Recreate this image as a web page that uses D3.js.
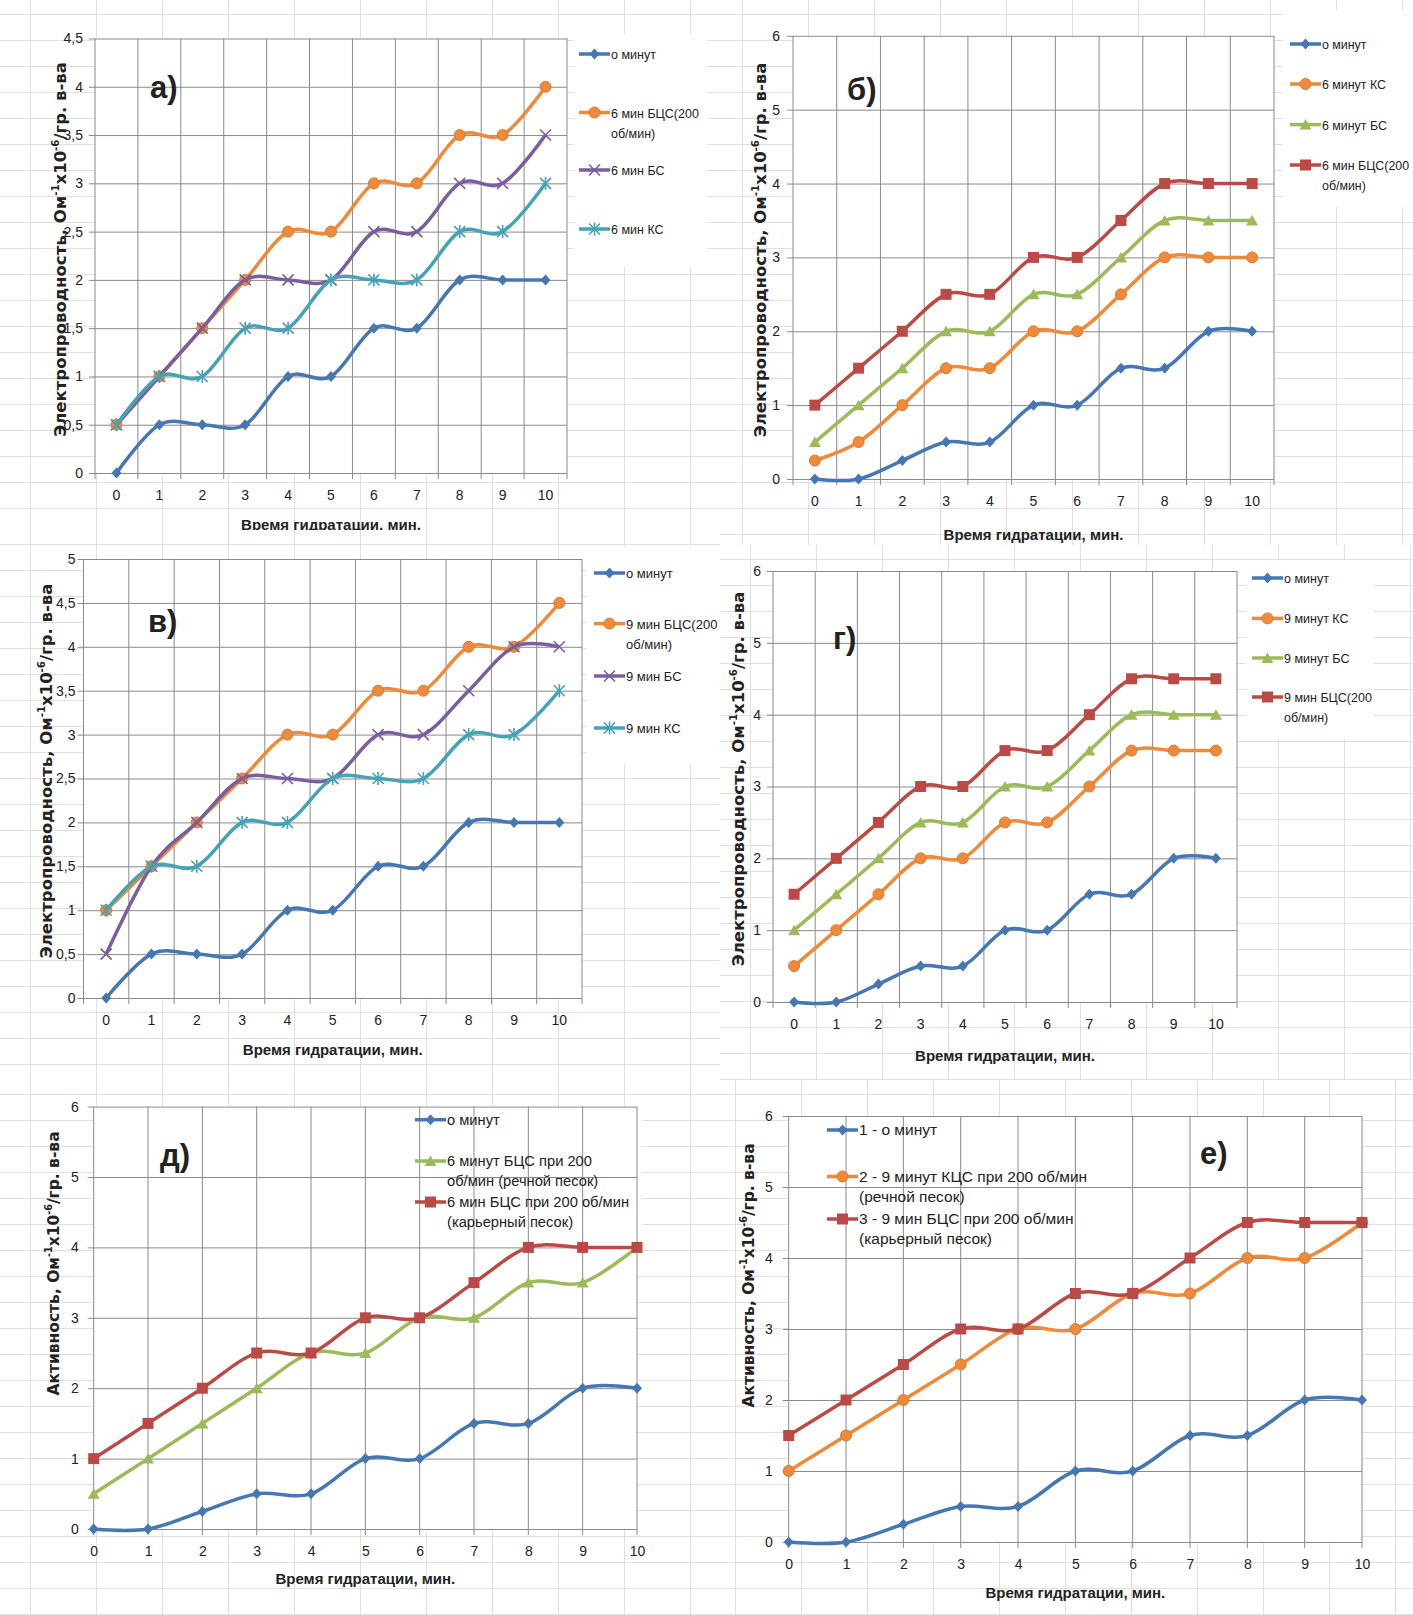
<!DOCTYPE html>
<html>
<head>
<meta charset="utf-8">
<script src="https://cdn.jsdelivr.net/npm/d3@7"></script>
<style>
body { margin: 0; background: #fff; }
svg text { font-family: "Liberation Sans", Arial, sans-serif; fill: #222; }
</style>
</head>
<body>
<svg id="chart" width="1413" height="1615"></svg>
<script>
// categories (время гидратации, мин.)
const hours = [0, 1, 2, 3, 4, 5, 6, 7, 8, 9, 10];
const xTitle = "Время гидратации, мин.";
const yTitleCond = "Электропроводность";
const yTitleAct = "Активность";

// а)
const aNames = ["о минут", "6 мин БЦС(200\nоб/мин)", "6 мин БС", "6 мин КС"];
const a0 = [0, 0.5, 0.5, 0.5, 1, 1, 1.5, 1.5, 2, 2, 2];
const aBCS = [0.5, 1, 1.5, 2, 2.5, 2.5, 3, 3, 3.5, 3.5, 4];
const aBS = [0.5, 1, 1.5, 2, 2, 2, 2.5, 2.5, 3, 3, 3.5];
const aKS = [0.5, 1, 1, 1.5, 1.5, 2, 2, 2, 2.5, 2.5, 3];
const aTicks = [0, 0.5, 1, 1.5, 2, 2.5, 3, 3.5, 4, 4.5];

// б)
const bNames = ["о минут", "6 минут КС", "6 минут БС", "6 мин БЦС(200\nоб/мин)"];
const b0 = [0, 0, 0.25, 0.5, 0.5, 1, 1, 1.5, 1.5, 2, 2];
const bKS = [0.25, 0.5, 1, 1.5, 1.5, 2, 2, 2.5, 3, 3, 3];
const bBS = [0.5, 1, 1.5, 2, 2, 2.5, 2.5, 3, 3.5, 3.5, 3.5];
const bBCS = [1, 1.5, 2, 2.5, 2.5, 3, 3, 3.5, 4, 4, 4];
const bTicks = [0, 1, 2, 3, 4, 5, 6];

// в)
const vNames = ["о минут", "9 мин БЦС(200\nоб/мин)", "9 мин БС", "9 мин КС"];
const v0 = [0, 0.5, 0.5, 0.5, 1, 1, 1.5, 1.5, 2, 2, 2];
const vBCS = [1, 1.5, 2, 2.5, 3, 3, 3.5, 3.5, 4, 4, 4.5];
const vBS = [0.5, 1.5, 2, 2.5, 2.5, 2.5, 3, 3, 3.5, 4, 4];
const vKS = [1, 1.5, 1.5, 2, 2, 2.5, 2.5, 2.5, 3, 3, 3.5];
const vTicks = [0, 0.5, 1, 1.5, 2, 2.5, 3, 3.5, 4, 4.5, 5];

// г)
const gNames = ["о минут", "9 минут КС", "9 минут БС", "9 мин БЦС(200\nоб/мин)"];
const g0 = [0, 0, 0.25, 0.5, 0.5, 1, 1, 1.5, 1.5, 2, 2];
const gKS = [0.5, 1, 1.5, 2, 2, 2.5, 2.5, 3, 3.5, 3.5, 3.5];
const gBS = [1, 1.5, 2, 2.5, 2.5, 3, 3, 3.5, 4, 4, 4];
const gBCS = [1.5, 2, 2.5, 3, 3, 3.5, 3.5, 4, 4.5, 4.5, 4.5];
const gTicks = [0, 1, 2, 3, 4, 5, 6];

// д)
const dNames = ["о минут", "6 минут БЦС при 200\nоб/мин (речной песок)", "6 мин БЦС при 200 об/мин\n(карьерный песок)"];
const d0 = [0, 0, 0.25, 0.5, 0.5, 1, 1, 1.5, 1.5, 2, 2];
const dRiver = [0.5, 1, 1.5, 2, 2.5, 2.5, 3, 3, 3.5, 3.5, 4];
const dQuarry = [1, 1.5, 2, 2.5, 2.5, 3, 3, 3.5, 4, 4, 4];
const dTicks = [0, 1, 2, 3, 4, 5, 6];

// е)
const eNames = ["1 - о минут", "2 - 9 минут КЦС при 200 об/мин\n(речной песок)", "3 - 9 мин БЦС при 200 об/мин\n(карьерный песок)"];
const e0 = [0, 0, 0.25, 0.5, 0.5, 1, 1, 1.5, 1.5, 2, 2];
const eRiver = [1, 1.5, 2, 2.5, 3, 3, 3.5, 3.5, 4, 4, 4.5];
const eQuarry = [1.5, 2, 2.5, 3, 3, 3.5, 3.5, 4, 4.5, 4.5, 4.5];
const eTicks = [0, 1, 2, 3, 4, 5, 6];

const blue = "#4677b2", orange = "#ee8a3a", purple = "#7b5e9e",
      teal = "#46a2b5", green = "#9bbb59", red = "#bb4a46";

const panels = [
  { label: "а)", labelPos: [150, 98], frame: [0, 0, 712, 530], plot: { l: 95, r: 567, t: 38.5, b: 473 },
    ticks: aTicks, mode: "band", yTitle: yTitleCond, yTitleX: 60, yTitleY: 249.5, yTitleSize: 16.5,
    tickPad: 12, xTitleDy: 52,
    series: [[aNames[0], a0, blue, "diamond"], [aNames[1], aBCS, orange, "circle"],
             [aNames[2], aBS, purple, "x"], [aNames[3], aKS, teal, "star"]],
    legend: { x: 579, ys: [54, 112.5, 170, 229], size: 12.5, box: [574, 34, 133, 233] } },
  { label: "б)", labelPos: [847, 100], frame: [712, 0, 701, 545], plot: { l: 793, r: 1274, t: 35.8, b: 479 },
    ticks: bTicks, mode: "band", yTitle: yTitleCond, yTitleX: 760, yTitleY: 250, yTitleSize: 16.5,
    tickPad: 13, xTitleDy: 56,
    series: [[bNames[0], b0, blue, "diamond"], [bNames[1], bKS, orange, "circle"],
             [bNames[2], bBS, green, "triangle"], [bNames[3], bBCS, red, "square"]],
    legend: { x: 1290, ys: [44, 84, 124.6, 165], size: 12.4, box: [1283, 10, 130, 197] } },
  { label: "в)", labelPos: [148, 632], frame: [0, 530, 720, 550], plot: { l: 83.5, r: 582, t: 559, b: 998 },
    ticks: vTicks, mode: "band", yTitle: yTitleCond, yTitleX: 46, yTitleY: 771, yTitleSize: 16.5,
    tickPad: 8, xTitleDy: 51.5,
    series: [[vNames[0], v0, blue, "diamond"], [vNames[1], vBCS, orange, "circle"],
             [vNames[2], vBS, purple, "x"], [vNames[3], vKS, teal, "star"]],
    legend: { x: 594, ys: [573, 623.6, 676, 728], size: 13, box: [587, 547, 133, 217] } },
  { label: "г)", labelPos: [833, 649], frame: [720, 545, 693, 535], plot: { l: 773, r: 1237, t: 571, b: 1002 },
    ticks: gTicks, mode: "band", yTitle: yTitleCond, yTitleX: 738, yTitleY: 779, yTitleSize: 16.5,
    tickPad: 12, xTitleDy: 53.5,
    series: [[gNames[0], g0, blue, "diamond"], [gNames[1], gKS, orange, "circle"],
             [gNames[2], gBS, green, "triangle"], [gNames[3], gBCS, red, "square"]],
    legend: { x: 1252, ys: [578, 618.4, 658, 697], size: 12.5, box: [1246, 560, 128, 179] } },
  { label: "д)", labelPos: [160, 1166], frame: [0, 1080, 705, 535], plot: { l: 93.7, r: 637, t: 1106.6, b: 1529 },
    ticks: dTicks, mode: "point", yTitle: yTitleAct, yTitleX: 53.5, yTitleY: 1263.5, yTitleSize: 15.5,
    tickPad: 15, xTitleDy: 50,
    series: [[dNames[0], d0, blue, "diamond"], [dNames[1], dRiver, green, "triangle"],
             [dNames[2], dQuarry, red, "square"]],
    legend: { x: 415, ys: [1119.7, 1161, 1202], size: 14.7, box: [406, 1108, 236, 124] } },
  { label: "е)", labelPos: [1200, 1164], frame: [705, 1080, 708, 535], plot: { l: 788.7, r: 1362, t: 1116, b: 1542 },
    ticks: eTicks, mode: "point", yTitle: yTitleAct, yTitleX: 748, yTitleY: 1275.5, yTitleSize: 15.5,
    tickPad: 16, xTitleDy: 51,
    series: [[eNames[0], e0, blue, "diamond"], [eNames[1], eRiver, orange, "circle"],
             [eNames[2], eQuarry, red, "square"]],
    legend: { x: 827, ys: [1130, 1176.5, 1219], size: 15.5, box: [807, 1120, 309, 130] } }
];

const svg = d3.select("#chart");
const fmt = d => String(d).replace(".", ",");

function marker(sel, type, color) {
  const paths = {
    diamond: "M0,-5.5L5,0L0,5.5L-5,0Z",
    square: "M-5.5,-5.5H5.5V5.5H-5.5Z",
    triangle: "M0,-5.5L6,5H-6Z",
    x: "M-5.5,-5.5L5.5,5.5M-5.5,5.5L5.5,-5.5",
    star: "M-5.5,-5.5L5.5,5.5M-5.5,5.5L5.5,-5.5M0,-6.5V6.5"
  };
  if (type === "circle") {
    sel.append("circle").attr("r", 5.5).attr("fill", color).attr("stroke", d3.color(color).darker(0.3));
  } else if (type === "x" || type === "star") {
    sel.append("path").attr("d", paths[type]).attr("fill", "none").attr("stroke", color).attr("stroke-width", 1.6);
  } else {
    sel.append("path").attr("d", paths[type]).attr("fill", color);
  }
}

panels.forEach(p => {
  const [fx, fy, fw, fh] = p.frame;
  const { l, r, t, b } = p.plot;
  const g = svg.append("g");

  // spreadsheet background
  g.append("rect").attr("x", fx).attr("y", fy).attr("width", fw).attr("height", fh).attr("fill", "#fff");
  const cells = g.append("g").attr("stroke", "#e0e0e0").attr("stroke-width", 1);
  for (let x = fx + 30.5; x < fx + fw; x += 66) {
    cells.append("line").attr("x1", x).attr("x2", x).attr("y1", fy).attr("y2", fy + fh);
  }
  for (let y = fy + 14.5; y < fy + fh; y += 26) {
    cells.append("line").attr("x1", fx).attr("x2", fx + fw).attr("y1", y).attr("y2", y);
  }
  g.append("rect").attr("x", l).attr("y", t).attr("width", r - l).attr("height", b - t).attr("fill", "#fff");
  const lb = p.legend.box;
  g.append("rect").attr("x", lb[0]).attr("y", lb[1]).attr("width", lb[2]).attr("height", lb[3]).attr("fill", "#fff");

  const y = d3.scaleLinear().domain([0, d3.max(p.ticks)]).range([b, t]);
  let x, xPos, vLines;
  if (p.mode === "band") {
    x = d3.scaleBand().domain(hours).range([l, r]).padding(0);
    xPos = h => x(h) + x.bandwidth() / 2;
    vLines = hours.map(h => x(h)).concat([r]);
  } else {
    x = d3.scalePoint().domain(hours).range([l, r]);
    xPos = h => x(h);
    vLines = hours.map(h => x(h));
  }

  // horizontal gridlines
  g.append("g")
    .attr("transform", `translate(${l},0)`)
    .call(d3.axisLeft(y).tickValues(p.ticks).tickSizeInner(-(r - l)).tickSizeOuter(0).tickFormat(""))
    .call(a => a.select(".domain").remove())
    .call(a => a.selectAll("line").attr("stroke", "#8a8a8a").attr("x1", -6));
  // y tick labels
  g.append("g")
    .attr("transform", `translate(${l},0)`)
    .call(d3.axisLeft(y).tickValues(p.ticks).tickSize(0).tickPadding(p.tickPad).tickFormat(fmt))
    .call(a => a.select(".domain").remove())
    .call(a => a.selectAll("text").attr("font-size", 14).attr("fill", "#333")
      .style("font-family", "'Liberation Sans', sans-serif"));

  // vertical gridlines
  g.append("g").selectAll("line").data(vLines).join("line")
    .attr("x1", d => d).attr("x2", d => d).attr("y1", t).attr("y2", b + 6)
    .attr("stroke", "#8a8a8a");

  // x tick labels
  g.append("g")
    .attr("transform", `translate(0,${b})`)
    .call(d3.axisBottom(x).tickSize(0).tickPadding(17))
    .call(a => a.select(".domain").remove())
    .call(a => a.selectAll("text").attr("font-size", 14).attr("fill", "#333")
      .style("font-family", "'Liberation Sans', sans-serif"));

  // series
  const line = d3.line().x(d => xPos(d[0])).y(d => y(d[1])).curve(d3.curveCardinal.tension(0));
  p.series.forEach(([name, values, color, mk]) => {
    const pts = hours.map((h, i) => [h, values[i]]);
    g.append("path").attr("d", line(pts)).attr("fill", "none")
      .attr("stroke", color).attr("stroke-width", 3.5).attr("stroke-linejoin", "round");
    pts.forEach(pt => {
      marker(g.append("g").attr("transform", `translate(${xPos(pt[0])},${y(pt[1])})`), mk, color);
    });
  });

  // legend
  p.series.forEach(([name, values, color, mk], i) => {
    const ly = p.legend.ys[i];
    const lx = p.legend.x;
    g.append("line").attr("x1", lx).attr("x2", lx + 31).attr("y1", ly).attr("y2", ly)
      .attr("stroke", color).attr("stroke-width", 3.5);
    marker(g.append("g").attr("transform", `translate(${lx + 15.5},${ly})`), mk, color);
    const txt = g.append("text").attr("x", lx + 32).attr("y", ly + 5).attr("font-size", p.legend.size).attr("fill", "#333");
    name.split("\n").forEach((s, k) => {
      txt.append("tspan").attr("x", lx + 32).attr("dy", k === 0 ? 0 : 20).text(s);
    });
  });

  // panel label
  g.append("text").attr("x", p.labelPos[0]).attr("y", p.labelPos[1])
    .attr("font-size", 31).attr("font-weight", "bold").attr("fill", "#000").text(p.label);

  // x title
  g.append("text").attr("x", (l + r) / 2).attr("y", b + p.xTitleDy + 5).attr("text-anchor", "middle")
    .attr("font-size", 15).attr("font-weight", "bold").attr("fill", "#222").text(xTitle);

  // y title
  const fs = p.yTitleSize;
  const yt = g.append("text")
    .attr("transform", `translate(${p.yTitleX + fs * 0.36},${p.yTitleY}) rotate(-90)`)
    .attr("text-anchor", "middle").attr("font-size", fs).attr("font-weight", "bold").attr("fill", "#222")
    .style("font-family", "'DejaVu Sans', sans-serif");
  yt.append("tspan").text(p.yTitle + ", Ом");
  yt.append("tspan").attr("dy", -7).attr("font-size", fs * 0.62).text("-1");
  yt.append("tspan").attr("dy", 7).text("х10");
  yt.append("tspan").attr("dy", -7).attr("font-size", fs * 0.62).text("-6");
  yt.append("tspan").attr("dy", 7).text("/гр. в-ва");
});
</script>
</body>
</html>
